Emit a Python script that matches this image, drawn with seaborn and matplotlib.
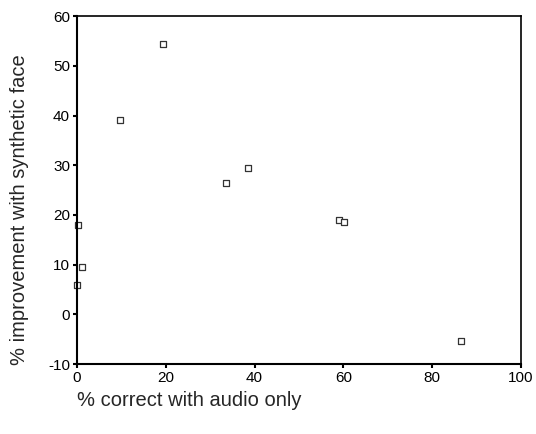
import matplotlib
matplotlib.use("Agg")
import matplotlib.pyplot as plt
import seaborn as sns
import pandas as pd

# % correct with audio only vs % improvement with synthetic face
audio_only = [19.3, 9.7, 33.6, 38.4, 0.2, 1.1, 0.1, 59.1, 60.1, 86.5]
improvement = [54.4, 39.0, 26.4, 29.5, 18.0, 9.5, 5.9, 18.9, 18.5, -5.3]

x_ticks = [0, 20, 40, 60, 80, 100]
y_ticks = [-10, 0, 10, 20, 30, 40, 50, 60]

df = pd.DataFrame({"audio": audio_only, "improve": improvement})

sns.set_style("ticks")
plt.rcParams["font.family"] = ["Liberation Sans", "DejaVu Sans"]
plt.rcParams["axes.unicode_minus"] = False

fig = plt.figure(figsize=(5.36, 4.34), dpi=100)
ax = fig.add_axes([0.1437, 0.161, 0.8283, 0.802])

sns.scatterplot(
    data=df,
    x="audio",
    y="improve",
    marker="s",
    s=22,
    facecolor="white",
    edgecolor="#333333",
    linewidth=0.9,
    ax=ax,
    clip_on=False
)

ax.set_xlim(0, 100)
ax.set_ylim(-10, 60)
ax.set_xticks(x_ticks)
ax.set_yticks(y_ticks)
ax.tick_params(axis="both", length=3, width=1.5, labelsize=11,
               colors="black", pad=2)

for side in ["left", "bottom", "top", "right"]:
    ax.spines[side].set_visible(True)
    ax.spines[side].set_color("black")
ax.spines["left"].set_linewidth(1.5)
ax.spines["bottom"].set_linewidth(1.5)
ax.spines["top"].set_linewidth(1.2)
ax.spines["right"].set_linewidth(1.2)

ax.set_xlabel("")
ax.set_ylabel("")
fig.text(0.1437, 0.078, "% correct with audio only", fontsize=14.5,
         ha="left", va="center")
fig.text(0.037, 0.516, "% improvement with synthetic face", fontsize=14.5,
         rotation=90, ha="center", va="center")

plt.savefig("out.png", dpi=100)
plt.close()
